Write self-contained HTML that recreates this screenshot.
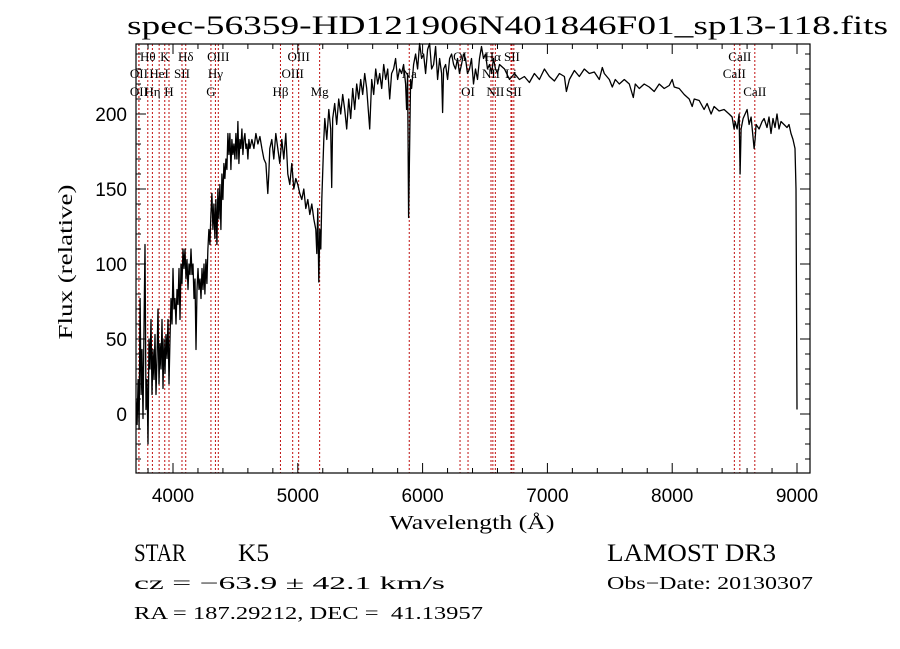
<!DOCTYPE html>
<html><head><meta charset="utf-8"><style>
html,body{margin:0;padding:0;background:#fff;}
svg{display:block;}
.serif{font-family:"Liberation Serif",serif;}
.sans{font-family:"Liberation Sans",sans-serif;}
</style></head><body>
<svg id="chart" width="900" height="649" viewBox="0 0 900 649" xmlns="http://www.w3.org/2000/svg">
<rect x="0" y="0" width="900" height="649" fill="#fff"/>
<text x="127" y="34" class="serif" font-size="26" textLength="761" lengthAdjust="spacingAndGlyphs">spec-56359-HD121906N401846F01_sp13-118.fits</text>
<g id="lines"></g>
<g id="labels"></g>
<path id="spec" fill="none" stroke="#000" stroke-width="1.3" stroke-linejoin="round"/>
<rect x="136" y="44" width="674" height="429" fill="none" stroke="#000" stroke-width="1.2"/>
<g id="ticks" stroke="#000" stroke-width="1"></g>
<g id="ticklabels" class="sans" font-size="19"></g>
<text x="472" y="529" class="serif" font-size="20" text-anchor="middle" textLength="165" lengthAdjust="spacingAndGlyphs">Wavelength (Å)</text>
<text transform="translate(72,262) rotate(-90)" class="serif" font-size="20" text-anchor="middle" textLength="155" lengthAdjust="spacingAndGlyphs">Flux (relative)</text>
<text x="134" y="561" class="serif" font-size="25" textLength="52" lengthAdjust="spacingAndGlyphs">STAR</text>
<text x="238" y="561" class="serif" font-size="25" textLength="31" lengthAdjust="spacingAndGlyphs">K5</text>
<text x="607" y="561" class="serif" font-size="25" textLength="169" lengthAdjust="spacingAndGlyphs">LAMOST DR3</text>
<text x="134" y="589" class="serif" font-size="18" textLength="311" lengthAdjust="spacingAndGlyphs">cz = −63.9 ± 42.1 km/s</text>
<text x="607" y="589" class="serif" font-size="18" textLength="206" lengthAdjust="spacingAndGlyphs">Obs−Date: 20130307</text>
<text x="134" y="619" class="serif" font-size="18" textLength="349" lengthAdjust="spacingAndGlyphs">RA = 187.29212, DEC =&#160; 41.13957</text>
</svg>
<script>
const wavelength=[3704,3712,3720,3728,3736,3744,3752,3760,3768,3776,3784,3792,3800,3808,3816,3824,3832,3840,3848,3856,3864,3872,3880,3888,3896,3904,3912,3920,3928,3936,3944,3952,3960,3968,3976,3984,3992,4000,4008,4016,4024,4032,4040,4048,4056,4064,4072,4080,4088,4096,4104,4112,4120,4128,4136,4144,4152,4160,4168,4176,4184,4192,4200,4208,4216,4224,4232,4240,4248,4256,4264,4272,4280,4288,4296,4304,4312,4320,4328,4336,4344,4352,4360,4368,4376,4384,4392,4400,4408,4416,4424,4432,4440,4448,4456,4464,4472,4480,4488,4496,4504,4512,4520,4528,4536,4544,4552,4560,4568,4576,4584,4592,4600,4608,4616,4632,4648,4664,4680,4696,4712,4728,4744,4760,4768,4776,4792,4808,4824,4840,4856,4872,4888,4904,4920,4936,4952,4968,4984,5000,5016,5032,5048,5064,5080,5096,5112,5128,5144,5152,5160,5168,5176,5184,5192,5200,5208,5216,5232,5248,5264,5272,5280,5296,5312,5328,5344,5360,5376,5392,5408,5424,5440,5456,5472,5488,5504,5520,5536,5552,5576,5592,5608,5624,5640,5656,5672,5688,5704,5720,5736,5752,5768,5784,5800,5816,5832,5848,5864,5872,5880,5888,5896,5904,5912,5928,5944,5960,5976,5992,6008,6024,6040,6056,6072,6088,6104,6120,6136,6152,6160,6168,6184,6200,6216,6232,6248,6264,6280,6296,6312,6328,6344,6360,6376,6392,6408,6424,6440,6456,6472,6488,6504,6520,6536,6552,6568,6584,6600,6616,6656,6696,6736,6776,6816,6856,6896,6936,6976,7016,7056,7096,7136,7152,7176,7216,7256,7296,7336,7376,7416,7440,7456,7496,7520,7544,7576,7616,7656,7688,7704,7736,7776,7816,7856,7896,7936,7976,8000,8016,8056,8096,8136,8160,8176,8216,8256,8280,8312,8336,8376,8416,8456,8480,8496,8504,8520,8536,8544,8552,8568,8584,8600,8616,8632,8656,8664,8672,8696,8720,8736,8760,8776,8792,8808,8824,8840,8856,8872,8896,8920,8936,8952,8968,8984,8992,9000];
const flux=[10,-7,23,-10,77,13,43,-3,57,113,3,23,-20,50,30,63,13,43,23,53,13,37,70,20,47,30,63,17,50,27,53,37,63,20,50,77,60,97,70,77,60,83,73,97,63,100,87,110,97,110,90,103,83,100,93,110,93,100,77,90,43,83,97,83,90,77,97,83,100,80,103,87,110,123,113,133,147,123,140,117,143,113,150,130,153,123,160,143,167,157,170,163,187,173,187,163,183,173,180,170,187,170,195,167,183,177,190,173,183,187,177,180,170,183,177,183,177,187,180,185,177,170,167,147,160,177,183,170,187,177,167,183,170,187,160,153,167,150,157,153,147,143,150,137,143,133,140,130,123,107,137,88,123,110,143,163,183,197,183,203,190,151,197,207,193,210,200,213,203,190,210,197,217,203,220,210,223,213,227,217,190,223,213,230,220,227,217,233,223,230,210,227,230,237,223,230,227,233,220,203,227,131,177,223,217,233,240,230,247,237,240,227,243,247,230,233,245,223,237,227,201,230,233,223,237,240,233,230,237,227,233,240,237,227,230,237,220,230,223,237,245,237,240,230,233,227,237,230,227,233,230,223,227,223,225,221,227,223,230,225,222,227,225,215,223,229,225,230,227,228,223,231,227,223,218,223,220,223,220,211,220,217,220,218,215,220,217,219,223,218,217,213,210,205,210,209,203,207,200,205,202,203,200,198,190,195,190,200,160,190,197,200,203,193,198,177,183,193,190,195,197,191,198,187,197,191,200,190,195,193,191,193,187,183,177,150,3];
const lineWl=[3727,3727,3798,3835,3889,3934,3968,4072,4102,4304,4340,4363,4861,4959,5007,5175,5893,6300,6364,6548,6563,6583,6708,6716,6731,8498,8542,8662];
const lineLabel=["OII","OII","Hθ","Hη","HeI","K","H","SII","Hδ","G","Hγ","OIII","Hβ","OIII","OIII","Mg","Na","OI","OI","NII","Hα","NII","Li","SII","SII","CaII","CaII","CaII"];
const lineRow=[2,3,1,3,2,1,3,2,1,3,2,1,3,2,1,3,2,1,3,2,1,3,2,1,3,2,1,3];
const xTicks=[4000,5000,6000,7000,8000,9000];
const yTicks=[0,50,100,150,200];

const L=136,R=810,T=44,B=473;
function xs(w){return 173+(w-4000)*0.1248;}
function ys(f){return 414-f*1.5;}
const NS="http://www.w3.org/2000/svg";
function mk(tag,attrs,parent){const e=document.createElementNS(NS,tag);for(const k in attrs)e.setAttribute(k,attrs[k]);parent.appendChild(e);return e;}

let d="";
for(let i=0;i<wavelength.length;i++){d+=(i?"L":"M")+xs(wavelength[i]).toFixed(1)+" "+ys(flux[i]).toFixed(1);}
document.getElementById("spec").setAttribute("d",d);

const gl=document.getElementById("lines"),glab=document.getElementById("labels");
const rowY={1:61,2:78,3:96};
for(let i=0;i<lineWl.length;i++){
  const x=xs(lineWl[i]);
  const ln=mk("line",{x1:x,x2:x,y1:T,y2:B,stroke:"#c01010","stroke-width":1,"stroke-dasharray":"2,2"},gl);
  
  
  const t=mk("text",{x:x,y:rowY[lineRow[i]],"text-anchor":"middle","font-size":13,"class":"serif"},glab);
  t.textContent=lineLabel[i];
  
  
}

const gt=document.getElementById("ticks"),gtl=document.getElementById("ticklabels");
for(let w=3800;w<=9100;w+=200){
  const x=xs(w);if(x<L||x>R)continue;
  const major=(w%1000===0);const len=major?10:5;
  const a=mk("line",{x1:x,x2:x,y1:B,y2:B-len},gt);
  
  
  const b=mk("line",{x1:x,x2:x,y1:T,y2:T+len},gt);
  
  
}
for(const w of xTicks){
  const t=mk("text",{x:xs(w),y:502,"text-anchor":"middle"},gtl);
  t.textContent=String(w);
  
  
}
for(let f=-30;f<=240;f+=10){
  const y=ys(f);if(y<T||y>B)continue;
  const major=(f%50===0);const len=major?10:5;
  const a=mk("line",{x1:L,x2:L+len,y1:y,y2:y},gt);
  
  
  const b=mk("line",{x1:R,x2:R-len,y1:y,y2:y},gt);
  
  
}
for(const f of yTicks){
  const t=mk("text",{x:127,y:ys(f)+7,"text-anchor":"end"},gtl);
  t.textContent=String(f);
  
  
}
</script>
</body></html>
